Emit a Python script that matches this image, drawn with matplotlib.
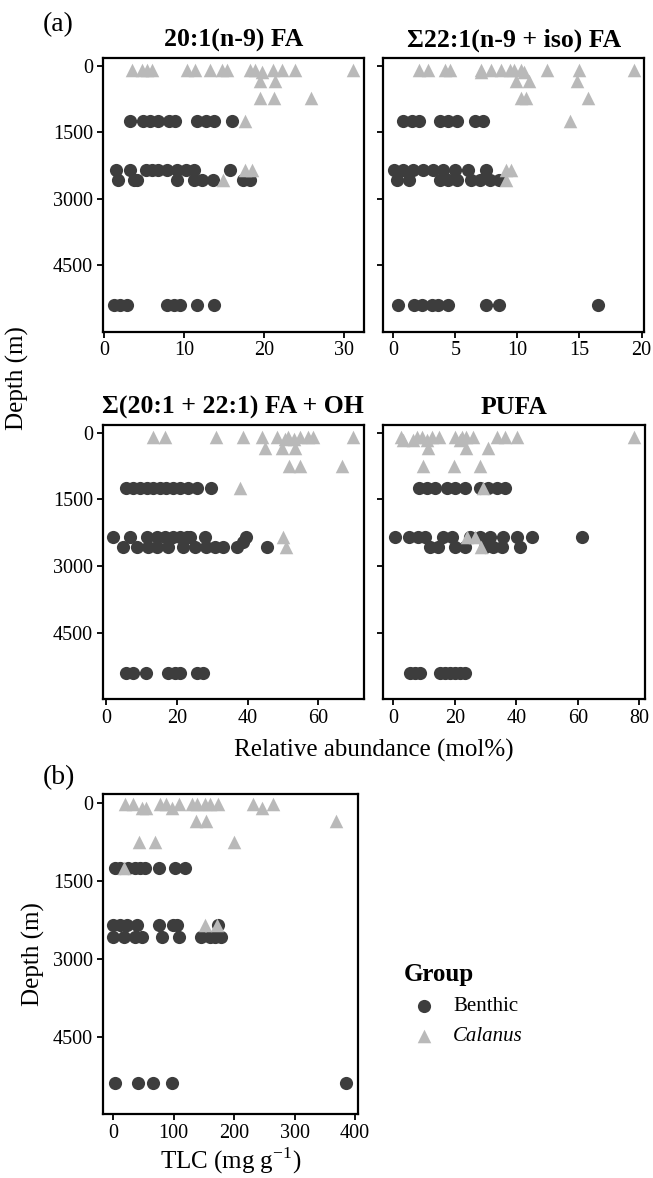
import matplotlib.pyplot as plt

plt.rcParams['font.family'] = ['Liberation Serif', 'DejaVu Serif']
plt.rcParams['mathtext.fontset'] = 'custom'
plt.rcParams['mathtext.rm'] = 'Liberation Serif'

# Data: relative abundance (mol%) per sampling depth (m)
fa20_benthic = {1250: [3.3, 4.9, 5.8, 6.8, 8.1, 8.9, 11.6, 12.7, 13.7, 16.0],
                2350: [1.5, 3.2, 5.2, 6.0, 6.8, 7.9, 9.1, 10.2, 11.2, 15.8],
                2575: [1.8, 3.7, 4.1, 9.1, 11.2, 12.2, 13.6, 17.4, 18.2],
                5400: [1.2, 2.0, 2.9, 7.9, 8.7, 9.5, 11.6, 13.8]}
fa20_calanus = {100: [3.5, 4.7, 5.4, 6.0, 10.4, 11.4, 13.2, 14.7, 15.4, 18.3, 18.9,
                      21.1, 22.2, 23.9, 31.1],
                150: [19.7],
                340: [19.5, 21.4],
                740: [19.5, 21.2, 25.9],
                1250: [17.6],
                2350: [17.6, 18.5],
                2575: [14.9]}

fa22_benthic = {1250: [0.8, 1.5, 2.1, 3.8, 4.4, 5.1, 6.6, 7.2],
                2350: [0.1, 0.8, 1.6, 2.4, 3.2, 4.0, 5.0, 6.0, 7.5],
                2575: [0.3, 1.3, 3.8, 4.4, 5.1, 6.3, 7.0, 7.8, 8.5],
                5400: [0.4, 1.7, 2.3, 3.1, 3.6, 4.4, 7.5, 8.5, 16.5]}
fa22_calanus = {100: [2.1, 2.8, 4.2, 4.6, 7.1, 7.9, 8.7, 9.4, 9.7, 10.3, 12.4, 15.0, 19.4],
                150: [7.1, 10.5],
                340: [9.9, 10.9, 14.8],
                740: [10.3, 10.7, 15.7],
                1250: [14.2],
                2350: [9.1, 9.5],
                2575: [9.1]}

sum_benthic = {1250: [5.6, 7.7, 9.6, 11.5, 13.4, 15.3, 17.1, 19.0, 20.9, 23.3, 25.6, 29.6],
               2350: [1.9, 6.8, 11.5, 14.3, 16.7, 19.0, 20.9, 22.8, 23.7, 28.0, 39.7],
               2450: [38.8],
               2575: [4.9, 8.7, 11.9, 14.3, 17.6, 21.8, 25.1, 28.4, 30.8, 33.0, 36.9, 45.4],
               5400: [5.8, 7.7, 11.3, 17.6, 19.5, 20.9, 25.6, 27.5]}
sum_calanus = {100: [13.4, 16.7, 31.1, 38.6, 44.0, 48.2, 51.5, 54.8, 57.1, 58.6, 69.9],
               150: [50.5, 53.0],
               340: [44.9, 49.6, 53.4],
               740: [51.8, 54.8, 66.6],
               1250: [37.9],
               2350: [49.9],
               2575: [51.0]}

pufa_benthic = {1250: [8.5, 10.9, 13.6, 17.4, 20.1, 23.3, 28.2, 30.9, 33.6, 36.3],
                2350: [0.6, 5.2, 8.1, 10.3, 16.3, 19.0, 24.9, 28.2, 31.4, 35.8, 40.1, 45.0, 61.3],
                2575: [11.9, 14.6, 20.1, 23.3, 29.8, 32.5, 35.3, 41.2],
                5400: [5.4, 7.0, 8.7, 15.2, 16.8, 18.5, 20.1, 21.7, 23.3]}
pufa_calanus = {100: [2.4, 7.6, 9.2, 12.5, 15.0, 20.1, 22.2, 23.6, 25.8, 33.6, 36.3, 40.1, 78.3],
                160: [3.3, 6.5, 10.9, 21.7],
                340: [11.4, 23.6, 30.9],
                740: [9.8, 19.7, 28.2],
                1250: [29.3],
                2350: [24.1, 26.6],
                2575: [28.7]}

# TLC (mg g-1)
tlc_benthic = {1250: [3, 11, 25, 36, 44, 52, 75, 102, 119],
               2350: [0, 11, 22, 39, 75, 99, 106, 174],
               2575: [0, 17, 36, 47, 80, 108, 146, 160, 168, 179],
               5400: [3, 41, 66, 97, 386]}
tlc_calanus = {10: [19, 33, 77, 88, 108, 130, 138, 152, 160, 174, 232, 264],
               100: [47, 55, 97, 246],
               340: [137, 153, 369],
               740: [43, 69, 200],
               1250: [17],
               2350: [152, 171]}

fa_titles = ['20:1(n-9) FA', 'Σ22:1(n-9 + iso) FA', 'Σ(20:1 + 22:1) FA + OH', 'PUFA']
fa_xticks = [[0, 10, 20, 30], [0, 5, 10, 15, 20], [0, 20, 40, 60], [0, 20, 40, 60, 80]]
fa_xlims = [(-0.15, 32.5), (-0.8, 20.2), (-0.9, 72.9), (-3.25, 81.9)]
depth_ticks = [0, 1500, 3000, 4500]

BENTHIC_COL = '#3d3d3d'
CALANUS_COL = '#b9b9b9'

W, H = 653, 1178
fig = plt.figure(figsize=(W / 100, H / 100), dpi=100)


def px_axes(left, top, right, bottom):
    return fig.add_axes([left / W, 1 - bottom / H, (right - left) / W, (bottom - top) / H])


def flat(rows):
    xs, ds = [], []
    for d, vals in rows.items():
        xs += vals
        ds += [d] * len(vals)
    return xs, ds


def style(ax, xticks, xlim, show_ylab=True):
    ax.set_xlim(*xlim)
    ax.set_ylim(5990, -170)
    ax.set_xticks(xticks)
    ax.set_yticks(depth_ticks)
    if not show_ylab:
        ax.set_yticklabels([])
    for sp in ax.spines.values():
        sp.set_linewidth(1.6)
    ax.tick_params(direction='out', length=4, width=1.3, labelsize=14.5, pad=3)


def draw(ax, benthic, calanus):
    cx, cd = flat(calanus)
    bx, bd = flat(benthic)
    ax.scatter(bx, bd, s=90, marker='o', color=BENTHIC_COL, linewidths=0, zorder=3)
    ax.scatter(cx, cd, s=95, marker='^', color=CALANUS_COL, linewidths=0, zorder=4)


boxes = [(102.7, 58, 364, 331.7), (383.3, 58, 644, 331.7),
         (102.7, 425, 364, 699.3), (383.3, 425, 645, 699.3)]
panel_data = [(fa20_benthic, fa20_calanus), (fa22_benthic, fa22_calanus),
              (sum_benthic, sum_calanus), (pufa_benthic, pufa_calanus)]

for i, (box, (b, c)) in enumerate(zip(boxes, panel_data)):
    ax = px_axes(*box)
    draw(ax, b, c)
    style(ax, fa_xticks[i], fa_xlims[i], show_ylab=(i % 2 == 0))
    ax.set_title(fa_titles[i], fontsize=18.5, fontweight='bold', pad=8)

# panel (b)
axb = px_axes(102.7, 794.3, 358.3, 1114)
bx, bd = flat(tlc_benthic)
cx, cd = flat(tlc_calanus)
h1 = axb.scatter(bx, bd, s=90, marker='o', color=BENTHIC_COL, linewidths=0, zorder=3)
h2 = axb.scatter(cx, cd, s=95, marker='^', color=CALANUS_COL, linewidths=0, zorder=4)
style(axb, [0, 100, 200, 300, 400], (-17.5, 405.6))
axb.set_xlabel('TLC (mg g$^{-1}$)', fontsize=18, labelpad=2)
axb.set_ylabel('Depth (m)', fontsize=18, labelpad=6)

fig.text(374 / W, 1 - 750 / H, 'Relative abundance (mol%)', fontsize=18, ha='center', va='center')
fig.text(17 / W, 1 - 378 / H, 'Depth (m)', fontsize=18, rotation=90, ha='center', va='center')
fig.text(43 / W, 1 - 25 / H, '(a)', fontsize=20, ha='left', va='center')
fig.text(43 / W, 1 - 778 / H, '(b)', fontsize=20, ha='left', va='center')

leg = fig.legend([h1, h2], ['Benthic', 'Calanus'], title='Group', loc='upper left',
                 bbox_to_anchor=(395 / W, 1 - 955 / H), frameon=False, fontsize=15,
                 title_fontproperties={'size': 18, 'weight': 'bold'},
                 handletextpad=0.4, labelspacing=0.5, borderaxespad=0)
leg._legend_box.align = 'left'
leg.get_texts()[1].set_fontstyle('italic')

fig.savefig('out.png', dpi=100)
